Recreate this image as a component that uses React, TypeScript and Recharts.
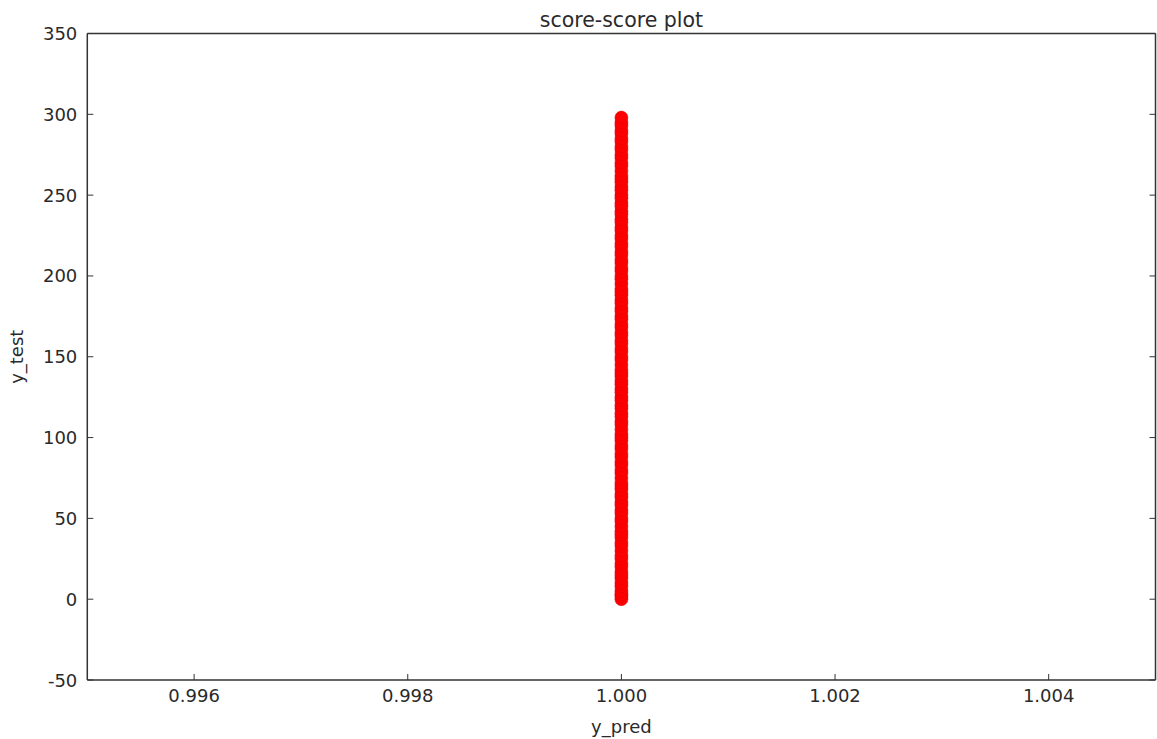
import React from "react";
import { ScatterChart, Scatter, XAxis, YAxis, Label } from "recharts";

const predictedValue = 1.0;
const yTest = [
  0, 2, 3, 5, 8, 10, 13, 15, 17, 20, 22, 25, 27, 30, 33, 35, 38, 40, 42, 45, 48, 50,
  53, 55, 58, 60, 63, 65, 68, 70, 72, 75, 78, 80, 83, 85, 88, 90, 93, 95, 98, 100,
  102, 105, 108, 110, 113, 115, 118, 120, 123, 125, 128, 130, 133, 135, 138, 140,
  142, 145, 148, 150, 153, 155, 158, 160, 163, 165, 168, 170, 173, 175, 178, 180,
  183, 185, 188, 190, 192, 195, 198, 200, 203, 205, 208, 210, 213, 215, 218, 220,
  223, 225, 228, 230, 233, 235, 238, 240, 243, 245, 248, 250, 253, 255, 258, 260,
  262, 265, 268, 270, 273, 275, 278, 280, 283, 285, 288, 290, 293, 295, 298,
];
const xTicks = [0.996, 0.998, 1.0, 1.002, 1.004];
const yTicks = [-50, 0, 50, 100, 150, 200, 250, 300, 350];
const xDomain: [number, number] = [0.995, 1.005];
const yDomain: [number, number] = [-50, 350];

const data = yTest.map((y) => ({ x: predictedValue, y }));

const FONT = "DejaVu Sans, sans-serif";
const LINE = "#333";
const TEXT = "#2a2a2a";

const BottomTick = (props: any) => {
  const { x, y, payload } = props;
  return (
    <g>
      <line x1={x} y1={y} x2={x} y2={y - 6} stroke={LINE} strokeWidth={1} />
      <text x={x} y={y + 22} textAnchor="middle" fontSize={18} fontFamily={FONT} fill={TEXT}>
        {Number(payload.value).toFixed(3)}
      </text>
    </g>
  );
};

const TopTick = (props: any) => {
  const { x, y } = props;
  return <line x1={x} y1={y} x2={x} y2={y + 6} stroke={LINE} strokeWidth={1} />;
};

const LeftTick = (props: any) => {
  const { x, y, payload } = props;
  return (
    <g>
      <line x1={x} y1={y} x2={x + 6} y2={y} stroke={LINE} strokeWidth={1} />
      <text x={x - 10} y={y + 6.5} textAnchor="end" fontSize={18} fontFamily={FONT} fill={TEXT}>
        {String(payload.value)}
      </text>
    </g>
  );
};

const RightTick = (props: any) => {
  const { x, y } = props;
  return <line x1={x} y1={y} x2={x - 6} y2={y} stroke={LINE} strokeWidth={1} />;
};

const Dot = (props: any) => {
  const { cx, cy } = props;
  return <circle cx={cx} cy={cy} r={6.5} fill="#ff0000" stroke="#e00000" strokeWidth={0.5} />;
};

export default function App() {
  return (
    <div style={{ position: "absolute", left: 0, top: 0, background: "#fff" }}>
      <ScatterChart
        width={1157}
        height={739}
        margin={{ top: 32.5, right: 0.5, bottom: 58, left: 86.3 }}
      >
        <XAxis
          xAxisId={0}
          dataKey="x"
          type="number"
          domain={xDomain}
          ticks={xTicks}
          interval={0}
          allowDataOverflow
          height={1}
          tickSize={0}
          tickMargin={0}
          tickLine={false}
          tick={<BottomTick />}
          axisLine={{ stroke: LINE, strokeWidth: 1.5 }}
          label={{
            content: (p: any) => {
              const vb = p.viewBox || {};
              return (
                <text
                  x={vb.x + vb.width / 2}
                  y={733}
                  textAnchor="middle"
                  fontSize={18}
                  fontFamily={FONT}
                  fill={TEXT}
                >
                  y_pred
                </text>
              );
            },
          }}
        />
        <XAxis
          xAxisId="top"
          orientation="top"
          type="number"
          domain={xDomain}
          ticks={xTicks}
          interval={0}
          allowDataOverflow
          height={1}
          tickSize={0}
          tickMargin={0}
          tickLine={false}
          tick={<TopTick />}
          axisLine={{ stroke: LINE, strokeWidth: 1.5 }}
        >
          <Label
            content={(p: any) => {
              const vb = p.viewBox || {};
              return (
                <text
                  x={vb.x + vb.width / 2}
                  y={27}
                  textAnchor="middle"
                  fontSize={20.5}
                  fontFamily={FONT}
                  fill={TEXT}
                >
                  score-score plot
                </text>
              );
            }}
          />
        </XAxis>
        <YAxis
          yAxisId={0}
          dataKey="y"
          type="number"
          domain={yDomain}
          ticks={yTicks}
          interval={0}
          allowDataOverflow
          width={1}
          tickSize={0}
          tickMargin={0}
          tickLine={false}
          tick={<LeftTick />}
          axisLine={{ stroke: LINE, strokeWidth: 1.5 }}
          label={{
            content: (p: any) => {
              const vb = p.viewBox || {};
              const cy = vb.y + vb.height / 2;
              return (
                <text
                  x={23}
                  y={cy}
                  transform={`rotate(-90, 23, ${cy})`}
                  textAnchor="middle"
                  fontSize={18}
                  fontFamily={FONT}
                  fill={TEXT}
                >
                  y_test
                </text>
              );
            },
          }}
        />
        <YAxis
          yAxisId="right"
          orientation="right"
          type="number"
          domain={yDomain}
          ticks={yTicks}
          interval={0}
          allowDataOverflow
          width={1}
          tickSize={0}
          tickMargin={0}
          tickLine={false}
          tick={<RightTick />}
          axisLine={{ stroke: LINE, strokeWidth: 1.5 }}
        />
        <Scatter
          xAxisId={0}
          yAxisId={0}
          data={data}
          fill="#ff0000"
          shape={<Dot />}
          isAnimationActive={false}
        />
      </ScatterChart>
    </div>
  );
}
